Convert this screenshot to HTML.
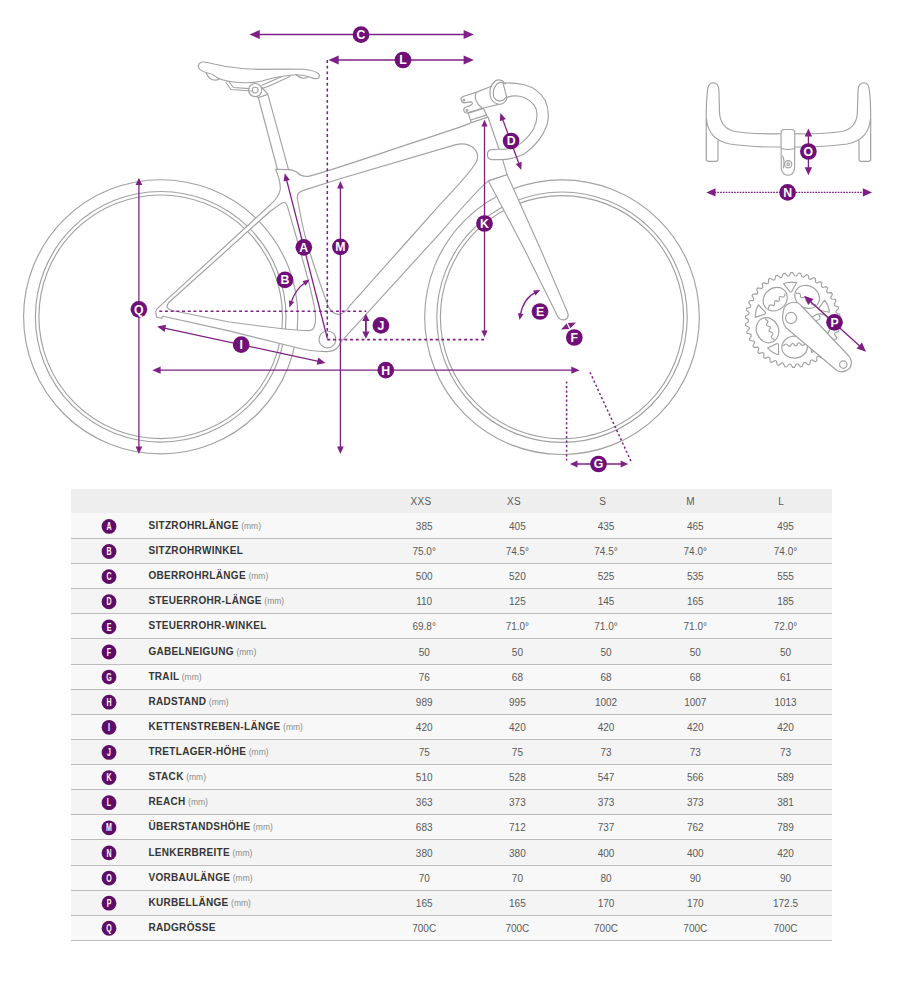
<!DOCTYPE html><html lang="de"><head><meta charset="utf-8"><title>Geometrie</title><style>
html,body{margin:0;padding:0;background:#fff;}
body{width:911px;height:1000px;position:relative;overflow:hidden;font-family:"Liberation Sans",Arial,sans-serif;}
.tbl{position:absolute;left:71px;top:489px;width:761px;}
.hd{position:absolute;left:0;top:0;width:761px;height:24px;background:#eeeeee;}
.hd span{position:absolute;top:0;width:80px;margin-left:-40px;text-align:center;line-height:25.6px;font-size:10px;color:#5a5a5a;letter-spacing:0.3px;}
.r{position:absolute;left:0;width:761px;box-sizing:border-box;border-bottom:1px solid #bcbcbc;background:#f8f8f8;}
.r.e{background:#f4f4f4;}
.r svg{position:absolute;left:28.0px;top:0;overflow:visible;}
.r .l{position:absolute;left:77.4px;top:0;font-size:10px;font-weight:bold;color:#363636;letter-spacing:0.32px;white-space:nowrap;}
.r .l small{font-weight:normal;font-size:8.5px;color:#8a8a8a;letter-spacing:0;margin-left:-0.6px;}
.r .v{position:absolute;top:1px;width:80px;margin-left:-40px;text-align:center;font-size:10px;color:#5a5a5a;letter-spacing:0;}
</style></head><body>
<svg width="911" height="486" viewBox="0 0 911 486" style="position:absolute;left:0;top:0">
<g fill="none" stroke="#a2a2a2" stroke-width="1.15" stroke-linejoin="round" stroke-linecap="round">
<circle cx="160.7" cy="316.8" r="137.1"/>
<circle cx="160.7" cy="316.8" r="125.3"/>
<circle cx="160.7" cy="316.8" r="121.8"/>
<circle cx="562" cy="317.2" r="137.3"/>
<circle cx="562" cy="317.2" r="125.2"/>
<circle cx="562" cy="317.2" r="121.6"/>
<path fill="#fff" d="M258.3,97.5 L277.5,169.5 L288.6,169.8 L267.8,94.2 Z"/>
<path fill="#fff" fill-rule="evenodd" d="M275.8,169.3 L288.6,169.6 Q293,169.8 296.5,172 Q301,176.8 307.8,176.4 Q320,174 404,145.6 Q455,129 469.5,123.6 L471.5,121.9 L488,117 L502.7,159.8 L507.1,174.7 L488.4,180.9 Q478,189 441.7,231.3 L341,341.8 Q337.5,351.8 327,351.6 Q310,351.5 294,347 L228,330.6 L163,316.2 L161.5,318.3 L156.6,317.2 L155.7,311.6 L156.6,309.2 L270,205 Q278.5,198 280.3,189.5 Q280.6,181 275.6,169.3 Z M297.6,200 Q296,192.6 303.4,190.4 L340,178.8 L455,144.9 Q466,141.8 473,147.5 Q480.5,154 476,162.5 Q470,173 439,205.6 L404.4,244.5 L350.6,304.8 Q344.5,314.4 338.5,314.4 Q331,314.2 327.3,304 Q321.5,288 313,262.5 Q305,237 302.5,225 Z M281,203.6 Q285.8,200.5 287.4,206.4 L295,232.5 L305.5,270 Q311.5,292 314.6,308 Q316.5,320 314.5,326 Q313,330.8 308,330.6 Q290,330.3 228,321.8 L172,310.5 Q164.5,308.5 168.5,302.8 L270,211.5 Z"/>
<circle cx="327.5" cy="339.4" r="8.4" fill="#fff"/>
<path fill="#fff" d="M488.4,180.9 L507.1,174.7 L540.9,250 L567.6,312.5 Q569.5,318 565,319.6 Q560,321 557,315 L524.8,250 Z"/>
<path fill="#fff" d="M249.5,93.5 L258.3,97.5 L267.8,94.2 L261.5,87 Z"/>
<circle cx="255.2" cy="90.1" r="6.6" fill="#fff"/>
<circle cx="255.2" cy="90.1" r="2.9"/>
<path d="M226,82.5 L231,89.5 L251.5,91 M261.5,88.5 L268,86.5 L290,76.5 M229.5,82.5 L233.5,87.5 L249,88.6 M262,85.2 L283,76"/>
<path fill="#fff" d="M198.3,66.5 Q198.5,62.5 202.5,62 Q206,61.7 214,64 Q235,69.2 262,69.3 Q290,69 304,69.3 Q314,70.3 318.5,73.8 Q320.5,76.5 318,78.3 Q315.5,79.3 311,77.5 Q303,74.5 296,74.8 Q280,75.5 262,81 Q252,83.5 240,82.5 Q226,82 218,78 Q212,73.5 206,72.5 Q199,70.5 198.3,66.5 Z"/>
<path d="M206,72.5 Q207,76 210,78.5 Q215,81.5 219.5,79 M296,74.8 Q299,77.5 303,78.3 Q307,78.5 308.5,76.5"/>
<path fill="#fff" d="M468.2,113.3 L483.5,108.4 L487.5,117.3 L471.3,122.6 Z"/>
<path d="M470.6,120 L486.6,115.1"/>
<path fill="#fff" d="M503,82.9 Q513,82.6 524.3,84.8 Q538,88.5 545,100 Q550.5,112 547,125 Q541,142 524.3,154 Q512,160 500,159.6 L492,159.6 Q487.4,159.4 487.4,154.5 Q487.4,149.8 492,149.6 L499.5,149.2 Q509,149.5 516,146.5 Q527,140 533.5,129 Q539,118 535.8,107.9 Q531,99 520,96.2 Q512,95 506.8,97.6"/>
<path fill="#fff" d="M463.8,96.3 Q460.6,97.4 461.1,99.9 Q461.6,102.9 464.2,102.9 L470.4,101.9 Q473.2,102.2 472.2,104 Q471.6,105.1 469,105.9 L465.6,107.2 Q463.2,108.4 463.8,110.7 Q464.6,113.4 467.6,112.9 L482.2,108.3 L500.7,103.9 L505,96 L498,82 L490.1,86.7 L476.1,92.4 Z"/>
<path d="M476.1,92.4 Q472.5,100 482.2,108.3"/>
<circle cx="463.9" cy="100.2" r="0.9"/><circle cx="466.9" cy="110.4" r="0.9"/>
<path fill="#fff" d="M503.5,81.6 Q499,78.6 495.2,81 Q489,86.5 490,95 Q491.5,103.5 499.5,104.3 Q504,104.2 506.6,99.5 L506.8,97.6 L503,82.9 Z"/>
<path d="M505.5,84 Q500.5,80.8 496.8,84.2 Q492,90 493.6,96.5 Q496,102 502,100.6 Q504.8,99.6 506,97.2"/>
<path d="M706.2,160 L706.2,118 Q706.2,100 707.6,90 Q708.2,83 713,82.8 Q718.4,83 718.9,90 L719.5,112 Q720,128 735,131.5 Q750,134 781,133.8 M794.8,133.8 Q826,134 842,131.5 Q857,128 857.4,112 L858,90 Q858.5,83 863.9,82.8 Q868.8,83 869.3,90 Q870.7,100 870.7,118 L870.7,160 M706.3,118 Q708,140 730,144 Q752,147.2 781,147 M794.8,147 Q825,147.2 847,144 Q869,140 870.6,118 M706.3,133 L706.3,159 Q706.4,161.3 708.5,161.3 L716,161.3 Q718,161.3 718,159 L718,140.5 M870.6,133 L870.6,159 Q870.5,161.3 868.4,161.3 L861,161.3 Q859,161.3 859,159 L859,140.5"/>
<path fill="#fff" d="M781,133 Q781,129.6 784.5,129.5 L791.3,129.5 Q794.8,129.6 794.8,133 L794.6,168 Q794,175 788,175.2 Q782,175 781.3,168 Z"/>
<path d="M781.6,148.5 Q788,150.5 794.4,148.5 M782.5,156 Q785,160 783.5,168"/>
<circle cx="788.2" cy="164.2" r="3.6"/><circle cx="788.2" cy="164.2" r="1.3"/>
<path d="M836.9,320.0 L840.0,322.2 L839.9,323.9 L836.5,325.7 L836.3,327.3 L839.0,330.0 L838.6,331.6 L835.0,332.8 L834.5,334.4 L836.8,337.4 L836.1,339.0 L832.3,339.6 L831.6,341.0 L833.3,344.5 L832.4,345.9 L828.5,345.9 L827.6,347.1 L828.7,350.8 L827.6,352.1 L823.8,351.4 L822.6,352.5 L823.2,356.3 L821.8,357.4 L818.2,356.1 L816.9,357.0 L816.8,360.8 L815.3,361.7 L811.9,359.8 L810.5,360.5 L809.7,364.2 L808.1,364.8 L805.1,362.4 L803.6,362.8 L802.2,366.4 L800.5,366.8 L797.9,363.9 L796.4,364.0 L794.4,367.4 L792.7,367.4 L790.7,364.2 L789.0,364.0 L786.6,367.0 L784.9,366.8 L783.4,363.2 L781.8,362.8 L778.9,365.4 L777.3,364.8 L776.4,361.1 L774.9,360.5 L771.7,362.5 L770.1,361.7 L769.9,357.9 L768.5,357.0 L765.0,358.4 L763.6,357.4 L764.0,353.6 L762.8,352.5 L759.0,353.4 L757.8,352.1 L758.8,348.4 L757.8,347.1 L754.0,347.4 L753.0,345.9 L754.6,342.4 L753.8,341.0 L750.0,340.6 L749.3,339.0 L751.4,335.9 L750.9,334.4 L747.2,333.3 L746.8,331.6 L749.4,328.9 L749.1,327.3 L745.6,325.6 L745.5,323.9 L748.5,321.6 L748.5,320.0 L745.4,317.8 L745.5,316.1 L748.9,314.3 L749.1,312.7 L746.4,310.0 L746.8,308.4 L750.4,307.2 L750.9,305.6 L748.6,302.6 L749.3,301.0 L753.1,300.4 L753.8,299.0 L752.1,295.5 L753.0,294.1 L756.9,294.1 L757.8,292.9 L756.7,289.2 L757.8,287.9 L761.6,288.6 L762.8,287.5 L762.2,283.7 L763.6,282.6 L767.2,283.9 L768.5,283.0 L768.6,279.2 L770.1,278.3 L773.5,280.2 L774.9,279.5 L775.7,275.8 L777.3,275.2 L780.3,277.6 L781.8,277.2 L783.2,273.6 L784.9,273.2 L787.5,276.1 L789.0,276.0 L791.0,272.6 L792.7,272.6 L794.7,275.8 L796.4,276.0 L798.8,273.0 L800.5,273.2 L802.0,276.8 L803.6,277.2 L806.5,274.6 L808.1,275.2 L809.0,278.9 L810.5,279.5 L813.7,277.5 L815.3,278.3 L815.5,282.1 L816.9,283.0 L820.4,281.6 L821.8,282.6 L821.4,286.4 L822.6,287.5 L826.4,286.6 L827.6,287.9 L826.6,291.6 L827.6,292.9 L831.4,292.6 L832.4,294.1 L830.8,297.6 L831.6,299.0 L835.4,299.4 L836.1,301.0 L834.0,304.1 L834.5,305.6 L838.2,306.7 L838.6,308.4 L836.0,311.1 L836.3,312.7 L839.8,314.4 L839.9,316.1 L836.9,318.4 Z" stroke-linejoin="round"/>
<ellipse cx="807.1" cy="296.9" rx="12.8" ry="11" transform="rotate(32.0 807.1 296.9)"/>
<path transform="translate(805.2 300.1) rotate(32.0)" d="M-11,-1 Q-8,-4 -6.5,-1.5 Q-5,1.5 -3,-1 Q-1.5,-4 0,-1.5 Q1.5,1.5 3,-1 Q5,-4 6.5,-1.5 Q8,1.5 11,-1.5"/>
<path transform="translate(790.3 286.1) rotate(-4.0)" d="M-6.5,-3 Q0,-5 6.5,-3 L1,5.5 Q0,6.5 -1,5.5 Z"/>
<ellipse cx="819.1" cy="326.6" rx="12.8" ry="11" transform="rotate(104.0 819.1 326.6)"/>
<path transform="translate(815.5 325.7) rotate(104.0)" d="M-11,-1 Q-8,-4 -6.5,-1.5 Q-5,1.5 -3,-1 Q-1.5,-4 0,-1.5 Q1.5,1.5 3,-1 Q5,-4 6.5,-1.5 Q8,1.5 11,-1.5"/>
<path transform="translate(824.2 307.3) rotate(68.0)" d="M-6.5,-3 Q0,-5 6.5,-3 L1,5.5 Q0,6.5 -1,5.5 Z"/>
<ellipse cx="794.6" cy="347.1" rx="12.8" ry="11" transform="rotate(176.0 794.6 347.1)"/>
<path transform="translate(794.3 343.4) rotate(176.0)" d="M-11,-1 Q-8,-4 -6.5,-1.5 Q-5,1.5 -3,-1 Q-1.5,-4 0,-1.5 Q1.5,1.5 3,-1 Q5,-4 6.5,-1.5 Q8,1.5 11,-1.5"/>
<path transform="translate(814.6 346.0) rotate(140.0)" d="M-6.5,-3 Q0,-5 6.5,-3 L1,5.5 Q0,6.5 -1,5.5 Z"/>
<ellipse cx="767.5" cy="330.2" rx="12.8" ry="11" transform="rotate(248.0 767.5 330.2)"/>
<path transform="translate(770.9 328.8) rotate(248.0)" d="M-11,-1 Q-8,-4 -6.5,-1.5 Q-5,1.5 -3,-1 Q-1.5,-4 0,-1.5 Q1.5,1.5 3,-1 Q5,-4 6.5,-1.5 Q8,1.5 11,-1.5"/>
<path transform="translate(774.7 348.8) rotate(212.0)" d="M-6.5,-3 Q0,-5 6.5,-3 L1,5.5 Q0,6.5 -1,5.5 Z"/>
<ellipse cx="775.2" cy="299.2" rx="12.8" ry="11" transform="rotate(320.0 775.2 299.2)"/>
<path transform="translate(777.6 302.0) rotate(320.0)" d="M-11,-1 Q-8,-4 -6.5,-1.5 Q-5,1.5 -3,-1 Q-1.5,-4 0,-1.5 Q1.5,1.5 3,-1 Q5,-4 6.5,-1.5 Q8,1.5 11,-1.5"/>
<path transform="translate(759.7 311.8) rotate(284.0)" d="M-6.5,-3 Q0,-5 6.5,-3 L1,5.5 Q0,6.5 -1,5.5 Z"/>
<path fill="#fff" d="M783.2,311.5 Q784.5,303.5 793,302.3 Q798.5,302 801.5,306 L849.3,356.5 Q853.4,362.2 849.6,368.4 Q843.8,373.8 837.2,370.8 L786,327.8 Q781,321 783.2,311.5 Z"/>
<circle cx="791.1" cy="318" r="5.6"/>
<circle cx="843.3" cy="364.6" r="3.7"/>
</g>
<g fill="#7e2086" stroke="#7e2086" stroke-width="1.3">
<line x1="327.3" y1="60" x2="327.3" y2="339.6" stroke-dasharray="2.9 2.8" stroke-width="1.55" fill="none"/>
<line x1="159.3" y1="311.2" x2="366.3" y2="311.2" stroke-dasharray="2.9 2.8" stroke-width="1.55" fill="none"/>
<line x1="327.3" y1="339.6" x2="486" y2="339.6" stroke-dasharray="2.9 2.8" stroke-width="1.55" fill="none"/>
<line x1="566.6" y1="381.4" x2="566.6" y2="460.6" stroke-dasharray="2.2 2.35" stroke-width="1.5" fill="none"/>
<line x1="590" y1="372.3" x2="632" y2="463.4" stroke-dasharray="2.2 2.35" stroke-width="1.5" fill="none"/>
<g stroke-linecap="butt">
<line x1="258.7" y1="34.5" x2="464.6" y2="34.5" stroke-width="1.3"/><polygon stroke="none" points="249.4,34.5 259.7,30.1 259.7,38.9"/><polygon stroke="none" points="473.9,34.5 463.6,38.9 463.6,30.1"/><line x1="337.7" y1="60.0" x2="464.6" y2="60.0" stroke-width="1.3"/><polygon stroke="none" points="328.4,60.0 338.7,55.6 338.7,64.4"/><polygon stroke="none" points="473.9,60.0 463.6,64.4 463.6,55.6"/><line x1="138.9" y1="184.1" x2="138.9" y2="447.5" stroke-width="1.3"/><polygon stroke="none" points="138.9,177.7 142.2,185.1 135.6,185.1"/><polygon stroke="none" points="138.9,453.9 135.6,446.5 142.2,446.5"/><line x1="340.4" y1="187.4" x2="340.4" y2="447.6" stroke-width="1.3"/><polygon stroke="none" points="340.4,181.1 343.7,188.4 337.1,188.4"/><polygon stroke="none" points="340.4,453.9 337.1,446.6 343.7,446.6"/><line x1="484.5" y1="125.5" x2="484.5" y2="331.5" stroke-width="1.3"/><polygon stroke="none" points="484.5,119.7 487.6,126.5 481.4,126.5"/><polygon stroke="none" points="484.5,337.3 481.4,330.5 487.6,330.5"/><line x1="327.4" y1="338.6" x2="286.5" y2="179.7" stroke-width="1.3"/><polygon stroke="none" points="284.8,173.3 289.9,179.9 283.6,181.5"/><line x1="502.6" y1="119.1" x2="519.0" y2="163.9" stroke-width="1.3"/><polygon stroke="none" points="500.3,112.9 505.9,118.9 499.9,121.2"/><polygon stroke="none" points="521.3,170.1 515.7,164.1 521.7,161.8"/><line x1="159.6" y1="370.2" x2="572.3" y2="370.2" stroke-width="1.3"/><polygon stroke="none" points="152.3,370.2 160.6,366.6 160.6,373.8"/><polygon stroke="none" points="579.6,370.2 571.3,373.8 571.3,366.6"/><line x1="164.3" y1="328.2" x2="318.5" y2="361.3" stroke-width="1.3"/><polygon stroke="none" points="157.2,326.6 166.1,324.8 164.6,331.9"/><polygon stroke="none" points="325.6,362.9 316.7,364.7 318.2,357.6"/><line x1="365.9" y1="320.1" x2="365.9" y2="332.4" stroke-width="1.8"/><polygon stroke="none" points="365.9,313.7 369.5,321.1 362.3,321.1"/><polygon stroke="none" points="365.9,338.8 362.3,331.4 369.5,331.4"/><line x1="576.5" y1="464.0" x2="621.6" y2="464.0" stroke-width="1.7"/><polygon stroke="none" points="569.9,464.0 577.5,460.5 577.5,467.5"/><polygon stroke="none" points="628.2,464.0 620.6,467.5 620.6,460.5"/><line x1="808.4" y1="135.4" x2="808.4" y2="168.3" stroke-width="1.3"/><polygon stroke="none" points="808.4,128.4 812.1,136.4 804.7,136.4"/><polygon stroke="none" points="808.4,175.3 804.7,167.3 812.1,167.3"/><line x1="810.1" y1="301.3" x2="860.0" y2="346.2" stroke-width="1.3"/><polygon stroke="none" points="804.0,295.8 813.5,299.1 808.2,304.9"/><polygon stroke="none" points="866.1,351.7 856.6,348.4 861.9,342.6"/>
<line stroke-dasharray="1.7 1.1" x1="714.5" y1="192.4" x2="863.9" y2="192.4" stroke-width="1.2"/><polygon stroke="none" points="706.3,192.4 715.5,188.2 715.5,196.6"/><polygon stroke="none" points="872.1,192.4 862.9,196.6 862.9,188.2"/>
</g>
<path d="M305.3,282.5 Q295.5,289 291.1,302.6" fill="none"/><polygon stroke="none" points="309.7,279.6 305.6,285.7 302.5,281.0"/><polygon stroke="none" points="289.4,307.6 288.9,300.3 294.2,302.0"/>
<path d="M535.6,292.3 Q523.5,298 520.4,314.9" fill="none"/><polygon stroke="none" points="540.4,290.1 535.4,295.5 533.1,290.4"/><polygon stroke="none" points="519.5,320.1 518.0,312.9 523.5,313.9"/>
<polygon stroke="none" points="576.0,322.4 570.4,328.3 567.8,322.9"/>
<polygon stroke="none" points="561.0,329.4 566.6,323.5 569.2,328.9"/>
</g>
<circle cx="361" cy="34.7" r="8.35" fill="#710f79" stroke="none"/><text x="361" y="39.13" font-size="12.3" text-anchor="middle" fill="#fff" stroke="none" font-family="Liberation Sans, Arial, sans-serif" font-weight="bold">C</text>
<circle cx="403" cy="60" r="8.35" fill="#710f79" stroke="none"/><text x="403" y="64.43" font-size="12.3" text-anchor="middle" fill="#fff" stroke="none" font-family="Liberation Sans, Arial, sans-serif" font-weight="bold">L</text>
<circle cx="138.9" cy="309.3" r="8.35" fill="#710f79" stroke="none"/><text x="138.9" y="313.73" font-size="12.3" text-anchor="middle" fill="#fff" stroke="none" font-family="Liberation Sans, Arial, sans-serif" font-weight="bold">Q</text>
<circle cx="340.4" cy="246.8" r="8.35" fill="#710f79" stroke="none"/><text x="340.4" y="251.23" font-size="12.3" text-anchor="middle" fill="#fff" stroke="none" font-family="Liberation Sans, Arial, sans-serif" font-weight="bold">M</text>
<circle cx="303.8" cy="247.3" r="8.35" fill="#710f79" stroke="none"/><text x="303.8" y="251.73" font-size="12.3" text-anchor="middle" fill="#fff" stroke="none" font-family="Liberation Sans, Arial, sans-serif" font-weight="bold">A</text>
<circle cx="285" cy="279.9" r="8.35" fill="#710f79" stroke="none"/><text x="285" y="284.33" font-size="12.3" text-anchor="middle" fill="#fff" stroke="none" font-family="Liberation Sans, Arial, sans-serif" font-weight="bold">B</text>
<circle cx="484.5" cy="223.5" r="8.35" fill="#710f79" stroke="none"/><text x="484.5" y="227.93" font-size="12.3" text-anchor="middle" fill="#fff" stroke="none" font-family="Liberation Sans, Arial, sans-serif" font-weight="bold">K</text>
<circle cx="511.1" cy="141" r="8.35" fill="#710f79" stroke="none"/><text x="511.1" y="145.43" font-size="12.3" text-anchor="middle" fill="#fff" stroke="none" font-family="Liberation Sans, Arial, sans-serif" font-weight="bold">D</text>
<circle cx="540" cy="311.5" r="8.35" fill="#710f79" stroke="none"/><text x="540" y="315.93" font-size="12.3" text-anchor="middle" fill="#fff" stroke="none" font-family="Liberation Sans, Arial, sans-serif" font-weight="bold">E</text>
<circle cx="574.3" cy="337.5" r="8.35" fill="#710f79" stroke="none"/><text x="574.3" y="341.93" font-size="12.3" text-anchor="middle" fill="#fff" stroke="none" font-family="Liberation Sans, Arial, sans-serif" font-weight="bold">F</text>
<circle cx="380.9" cy="325.4" r="8.35" fill="#710f79" stroke="none"/><text x="380.9" y="329.83" font-size="12.3" text-anchor="middle" fill="#fff" stroke="none" font-family="Liberation Sans, Arial, sans-serif" font-weight="bold">J</text>
<circle cx="385.8" cy="370.2" r="8.35" fill="#710f79" stroke="none"/><text x="385.8" y="374.63" font-size="12.3" text-anchor="middle" fill="#fff" stroke="none" font-family="Liberation Sans, Arial, sans-serif" font-weight="bold">H</text>
<circle cx="241.2" cy="344.7" r="8.35" fill="#710f79" stroke="none"/><text x="241.2" y="349.13" font-size="12.3" text-anchor="middle" fill="#fff" stroke="none" font-family="Liberation Sans, Arial, sans-serif" font-weight="bold">I</text>
<circle cx="598.5" cy="464" r="8.35" fill="#710f79" stroke="none"/><text x="598.5" y="468.43" font-size="12.3" text-anchor="middle" fill="#fff" stroke="none" font-family="Liberation Sans, Arial, sans-serif" font-weight="bold">G</text>
<circle cx="808.4" cy="151.5" r="8.35" fill="#710f79" stroke="none"/><text x="808.4" y="155.93" font-size="12.3" text-anchor="middle" fill="#fff" stroke="none" font-family="Liberation Sans, Arial, sans-serif" font-weight="bold">O</text>
<circle cx="787.6" cy="192.4" r="8.35" fill="#710f79" stroke="none"/><text x="787.6" y="196.83" font-size="12.3" text-anchor="middle" fill="#fff" stroke="none" font-family="Liberation Sans, Arial, sans-serif" font-weight="bold">N</text>
<circle cx="834.5" cy="322.3" r="8.35" fill="#710f79" stroke="none"/><text x="834.5" y="326.73" font-size="12.3" text-anchor="middle" fill="#fff" stroke="none" font-family="Liberation Sans, Arial, sans-serif" font-weight="bold">P</text>
</svg>
<div class="tbl">
<div class="hd"><span style="left:350.0px">XXS</span><span style="left:443.0px">XS</span><span style="left:531.8px">S</span><span style="left:619.6px">M</span><span style="left:710.3px">L</span></div>
<div class="r" style="top:24px;height:26px;line-height:25.6px"><svg width="20" height="25" viewBox="0 0 20 25"><circle cx="10" cy="13.40" r="7.4" fill="#5f0c66"/><text transform="translate(10 17.05) scale(0.69 1)" text-anchor="middle" font-family="Liberation Sans, Arial, sans-serif" font-weight="bold" font-size="10.2" fill="#fff">A</text></svg><span class="l">SITZROHRLÄNGE <small>(mm)</small></span><span class="v" style="left:353.2px">385</span><span class="v" style="left:446.4px">405</span><span class="v" style="left:535.0px">435</span><span class="v" style="left:624.3px">465</span><span class="v" style="left:714.5px">495</span></div>
<div class="r e" style="top:50px;height:25px;line-height:23.6px"><svg width="20" height="24" viewBox="0 0 20 24"><circle cx="10" cy="12.52" r="7.4" fill="#5f0c66"/><text transform="translate(10 16.17) scale(0.69 1)" text-anchor="middle" font-family="Liberation Sans, Arial, sans-serif" font-weight="bold" font-size="10.2" fill="#fff">B</text></svg><span class="l">SITZROHRWINKEL</span><span class="v" style="left:353.2px">75.0°</span><span class="v" style="left:446.4px">74.5°</span><span class="v" style="left:535.0px">74.5°</span><span class="v" style="left:624.3px">74.0°</span><span class="v" style="left:714.5px">74.0°</span></div>
<div class="r" style="top:75px;height:25px;line-height:23.6px"><svg width="20" height="24" viewBox="0 0 20 24"><circle cx="10" cy="12.63" r="7.4" fill="#5f0c66"/><text transform="translate(10 16.28) scale(0.69 1)" text-anchor="middle" font-family="Liberation Sans, Arial, sans-serif" font-weight="bold" font-size="10.2" fill="#fff">C</text></svg><span class="l">OBERROHRLÄNGE <small>(mm)</small></span><span class="v" style="left:353.2px">500</span><span class="v" style="left:446.4px">520</span><span class="v" style="left:535.0px">525</span><span class="v" style="left:624.3px">535</span><span class="v" style="left:714.5px">555</span></div>
<div class="r e" style="top:100px;height:25px;line-height:23.6px"><svg width="20" height="24" viewBox="0 0 20 24"><circle cx="10" cy="12.75" r="7.4" fill="#5f0c66"/><text transform="translate(10 16.40) scale(0.69 1)" text-anchor="middle" font-family="Liberation Sans, Arial, sans-serif" font-weight="bold" font-size="10.2" fill="#fff">D</text></svg><span class="l">STEUERROHR-LÄNGE <small>(mm)</small></span><span class="v" style="left:353.2px">110</span><span class="v" style="left:446.4px">125</span><span class="v" style="left:535.0px">145</span><span class="v" style="left:624.3px">165</span><span class="v" style="left:714.5px">185</span></div>
<div class="r" style="top:125px;height:25px;line-height:23.6px"><svg width="20" height="24" viewBox="0 0 20 24"><circle cx="10" cy="12.87" r="7.4" fill="#5f0c66"/><text transform="translate(10 16.52) scale(0.69 1)" text-anchor="middle" font-family="Liberation Sans, Arial, sans-serif" font-weight="bold" font-size="10.2" fill="#fff">E</text></svg><span class="l">STEUERROHR-WINKEL</span><span class="v" style="left:353.2px">69.8°</span><span class="v" style="left:446.4px">71.0°</span><span class="v" style="left:535.0px">71.0°</span><span class="v" style="left:624.3px">71.0°</span><span class="v" style="left:714.5px">72.0°</span></div>
<div class="r e" style="top:150px;height:26px;line-height:25.6px"><svg width="20" height="25" viewBox="0 0 20 25"><circle cx="10" cy="12.99" r="7.4" fill="#5f0c66"/><text transform="translate(10 16.64) scale(0.69 1)" text-anchor="middle" font-family="Liberation Sans, Arial, sans-serif" font-weight="bold" font-size="10.2" fill="#fff">F</text></svg><span class="l">GABELNEIGUNG <small>(mm)</small></span><span class="v" style="left:353.2px">50</span><span class="v" style="left:446.4px">50</span><span class="v" style="left:535.0px">50</span><span class="v" style="left:624.3px">50</span><span class="v" style="left:714.5px">50</span></div>
<div class="r" style="top:176px;height:25px;line-height:23.6px"><svg width="20" height="24" viewBox="0 0 20 24"><circle cx="10" cy="12.10" r="7.4" fill="#5f0c66"/><text transform="translate(10 15.75) scale(0.69 1)" text-anchor="middle" font-family="Liberation Sans, Arial, sans-serif" font-weight="bold" font-size="10.2" fill="#fff">G</text></svg><span class="l">TRAIL <small>(mm)</small></span><span class="v" style="left:353.2px">76</span><span class="v" style="left:446.4px">68</span><span class="v" style="left:535.0px">68</span><span class="v" style="left:624.3px">68</span><span class="v" style="left:714.5px">61</span></div>
<div class="r e" style="top:201px;height:25px;line-height:23.6px"><svg width="20" height="24" viewBox="0 0 20 24"><circle cx="10" cy="12.22" r="7.4" fill="#5f0c66"/><text transform="translate(10 15.87) scale(0.69 1)" text-anchor="middle" font-family="Liberation Sans, Arial, sans-serif" font-weight="bold" font-size="10.2" fill="#fff">H</text></svg><span class="l">RADSTAND <small>(mm)</small></span><span class="v" style="left:353.2px">989</span><span class="v" style="left:446.4px">995</span><span class="v" style="left:535.0px">1002</span><span class="v" style="left:624.3px">1007</span><span class="v" style="left:714.5px">1013</span></div>
<div class="r" style="top:226px;height:25px;line-height:23.6px"><svg width="20" height="24" viewBox="0 0 20 24"><circle cx="10" cy="12.34" r="7.4" fill="#5f0c66"/><text transform="translate(10 15.99) scale(0.69 1)" text-anchor="middle" font-family="Liberation Sans, Arial, sans-serif" font-weight="bold" font-size="10.2" fill="#fff">I</text></svg><span class="l">KETTENSTREBEN-LÄNGE <small>(mm)</small></span><span class="v" style="left:353.2px">420</span><span class="v" style="left:446.4px">420</span><span class="v" style="left:535.0px">420</span><span class="v" style="left:624.3px">420</span><span class="v" style="left:714.5px">420</span></div>
<div class="r e" style="top:251px;height:25px;line-height:23.6px"><svg width="20" height="24" viewBox="0 0 20 24"><circle cx="10" cy="12.45" r="7.4" fill="#5f0c66"/><text transform="translate(10 16.10) scale(0.69 1)" text-anchor="middle" font-family="Liberation Sans, Arial, sans-serif" font-weight="bold" font-size="10.2" fill="#fff">J</text></svg><span class="l">TRETLAGER-HÖHE <small>(mm)</small></span><span class="v" style="left:353.2px">75</span><span class="v" style="left:446.4px">75</span><span class="v" style="left:535.0px">73</span><span class="v" style="left:624.3px">73</span><span class="v" style="left:714.5px">73</span></div>
<div class="r" style="top:276px;height:25px;line-height:23.6px"><svg width="20" height="24" viewBox="0 0 20 24"><circle cx="10" cy="12.57" r="7.4" fill="#5f0c66"/><text transform="translate(10 16.22) scale(0.69 1)" text-anchor="middle" font-family="Liberation Sans, Arial, sans-serif" font-weight="bold" font-size="10.2" fill="#fff">K</text></svg><span class="l">STACK <small>(mm)</small></span><span class="v" style="left:353.2px">510</span><span class="v" style="left:446.4px">528</span><span class="v" style="left:535.0px">547</span><span class="v" style="left:624.3px">566</span><span class="v" style="left:714.5px">589</span></div>
<div class="r e" style="top:301px;height:25px;line-height:23.6px"><svg width="20" height="24" viewBox="0 0 20 24"><circle cx="10" cy="12.69" r="7.4" fill="#5f0c66"/><text transform="translate(10 16.34) scale(0.69 1)" text-anchor="middle" font-family="Liberation Sans, Arial, sans-serif" font-weight="bold" font-size="10.2" fill="#fff">L</text></svg><span class="l">REACH <small>(mm)</small></span><span class="v" style="left:353.2px">363</span><span class="v" style="left:446.4px">373</span><span class="v" style="left:535.0px">373</span><span class="v" style="left:624.3px">373</span><span class="v" style="left:714.5px">381</span></div>
<div class="r" style="top:326px;height:25px;line-height:23.6px"><svg width="20" height="24" viewBox="0 0 20 24"><circle cx="10" cy="12.80" r="7.4" fill="#5f0c66"/><text transform="translate(10 16.45) scale(0.69 1)" text-anchor="middle" font-family="Liberation Sans, Arial, sans-serif" font-weight="bold" font-size="10.2" fill="#fff">M</text></svg><span class="l">ÜBERSTANDSHÖHE <small>(mm)</small></span><span class="v" style="left:353.2px">683</span><span class="v" style="left:446.4px">712</span><span class="v" style="left:535.0px">737</span><span class="v" style="left:624.3px">762</span><span class="v" style="left:714.5px">789</span></div>
<div class="r e" style="top:351px;height:26px;line-height:25.6px"><svg width="20" height="25" viewBox="0 0 20 25"><circle cx="10" cy="12.92" r="7.4" fill="#5f0c66"/><text transform="translate(10 16.57) scale(0.69 1)" text-anchor="middle" font-family="Liberation Sans, Arial, sans-serif" font-weight="bold" font-size="10.2" fill="#fff">N</text></svg><span class="l">LENKERBREITE <small>(mm)</small></span><span class="v" style="left:353.2px">380</span><span class="v" style="left:446.4px">380</span><span class="v" style="left:535.0px">400</span><span class="v" style="left:624.3px">400</span><span class="v" style="left:714.5px">420</span></div>
<div class="r" style="top:377px;height:25px;line-height:23.6px"><svg width="20" height="24" viewBox="0 0 20 24"><circle cx="10" cy="12.04" r="7.4" fill="#5f0c66"/><text transform="translate(10 15.69) scale(0.69 1)" text-anchor="middle" font-family="Liberation Sans, Arial, sans-serif" font-weight="bold" font-size="10.2" fill="#fff">O</text></svg><span class="l">VORBAULÄNGE <small>(mm)</small></span><span class="v" style="left:353.2px">70</span><span class="v" style="left:446.4px">70</span><span class="v" style="left:535.0px">80</span><span class="v" style="left:624.3px">90</span><span class="v" style="left:714.5px">90</span></div>
<div class="r e" style="top:402px;height:25px;line-height:23.6px"><svg width="20" height="24" viewBox="0 0 20 24"><circle cx="10" cy="12.15" r="7.4" fill="#5f0c66"/><text transform="translate(10 15.80) scale(0.69 1)" text-anchor="middle" font-family="Liberation Sans, Arial, sans-serif" font-weight="bold" font-size="10.2" fill="#fff">P</text></svg><span class="l">KURBELLÄNGE <small>(mm)</small></span><span class="v" style="left:353.2px">165</span><span class="v" style="left:446.4px">165</span><span class="v" style="left:535.0px">170</span><span class="v" style="left:624.3px">170</span><span class="v" style="left:714.5px">172.5</span></div>
<div class="r" style="top:427px;height:25px;line-height:23.6px"><svg width="20" height="24" viewBox="0 0 20 24"><circle cx="10" cy="12.27" r="7.4" fill="#5f0c66"/><text transform="translate(10 15.92) scale(0.69 1)" text-anchor="middle" font-family="Liberation Sans, Arial, sans-serif" font-weight="bold" font-size="10.2" fill="#fff">Q</text></svg><span class="l">RADGRÖSSE</span><span class="v" style="left:353.2px">700C</span><span class="v" style="left:446.4px">700C</span><span class="v" style="left:535.0px">700C</span><span class="v" style="left:624.3px">700C</span><span class="v" style="left:714.5px">700C</span></div>
</div></body></html>
